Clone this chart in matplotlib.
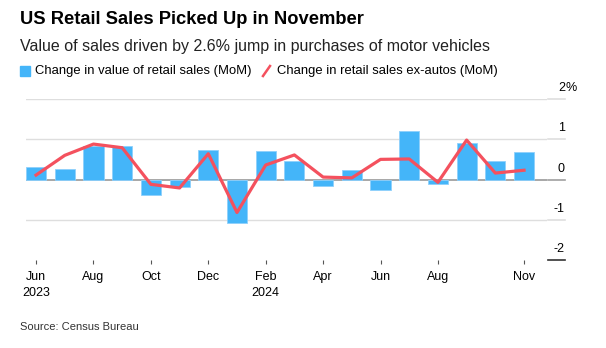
import numpy as np
import matplotlib.pyplot as plt
import matplotlib.transforms as mtransforms

plt.rcParams['font.family'] = ['Liberation Sans', 'DejaVu Sans']

#######################################
# Data
#######################################
months = ['Jun 2023', 'Jul 2023', 'Aug 2023', 'Sep 2023', 'Oct 2023', 'Nov 2023',
          'Dec 2023', 'Jan 2024', 'Feb 2024', 'Mar 2024', 'Apr 2024', 'May 2024',
          'Jun 2024', 'Jul 2024', 'Aug 2024', 'Sep 2024', 'Oct 2024', 'Nov 2024']
retail_sales = [0.31, 0.26, 0.83, 0.84, -0.39, -0.18, 0.74, -1.09, 0.70, 0.45,
                -0.15, 0.23, -0.27, 1.21, -0.11, 0.90, 0.46, 0.69]
ex_autos = [0.11, 0.60, 0.88, 0.79, -0.12, -0.21, 0.64, -0.82, 0.36, 0.61,
            0.06, 0.04, 0.50, 0.51, -0.07, 0.98, 0.16, 0.23]
tick_idx = [0, 2, 4, 6, 8, 10, 12, 14, 17]
tick_labels = ['Jun\n2023', 'Aug', 'Oct', 'Dec', 'Feb\n2024', 'Apr', 'Jun', 'Aug', 'Nov']
y_ticks = [2, 1, 0, -1, -2]
y_labels = ['2', '1', '0', '-1', '-2']

blue = '#44b5f9'
red = '#f4515e'

fig = plt.figure(figsize=(6.06, 3.48), dpi=100)
ax = fig.add_axes([26/606, 88/348, 521/606, 161/348])

x = np.arange(len(months))
for y in [2, 1, -1]:
    ax.axhline(y, color='#dedede', lw=1, zorder=0)
ax.axhline(0, color='#a0a0a0', lw=1.3, zorder=1)

ax.bar(x, retail_sales, width=0.7, color=blue, edgecolor='#8fd0fb', lw=0.6, zorder=2)
ax.plot(x, ex_autos, color=red, lw=2.3, zorder=3)

ax.set_xlim(-0.35, 17.8)
ax.set_ylim(-2, 2)
for s in ax.spines.values():
    s.set_visible(False)
ax.set_yticks([])
ax.set_xticks(tick_idx)
ax.set_xticklabels(tick_labels, fontsize=9, linespacing=1.4)
ax.tick_params(axis='x', length=3, width=0.8, color='#555555', pad=5)

# right-side value labels with short tick segments
trans = mtransforms.blended_transform_factory(fig.transFigure, ax.transData)
for y, lab in zip(y_ticks, y_labels):
    c = '#a0a0a0' if y == 0 else ('#333333' if y == -2 else '#dedede')
    ax.plot([548/606, 565/606], [y, y], transform=trans, color=c, lw=1.2, clip_on=False)
    ax.text(565/606, y + 0.12, lab, transform=trans, ha='right', va='bottom', fontsize=9)
    if y == 2:
        ax.text(565/606, y + 0.12, '%', transform=trans, ha='left', va='bottom', fontsize=9)

fig.text(20/606, 1 - 20/348, 'US Retail Sales Picked Up in November', fontsize=13.2,
         fontweight='bold', va='center', ha='left')
fig.text(20/606, 1 - 47/348, 'Value of sales driven by 2.6% jump in purchases of motor vehicles',
         fontsize=11.5, va='center', ha='left', color='#222222')

# legend
fig.patches.append(plt.Rectangle((20/606, 1 - 76/348), 10/606, 10/348, color=blue,
                                 transform=fig.transFigure, figure=fig))
fig.text(35/606, 1 - 71/348, 'Change in value of retail sales (MoM)', fontsize=9.4,
         va='center', ha='left')
fig.lines.append(plt.Line2D([263/606, 270/606], [1 - 76/348, 1 - 66/348], color=red, lw=1.8,
                            transform=fig.transFigure, figure=fig))
fig.text(277/606, 1 - 71/348, 'Change in retail sales ex-autos (MoM)', fontsize=9.4,
         va='center', ha='left')

fig.text(20/606, 1 - 327/348, 'Source: Census Bureau', fontsize=8, va='center', ha='left',
         color='#333333')

fig.savefig('out.png', dpi=100)
